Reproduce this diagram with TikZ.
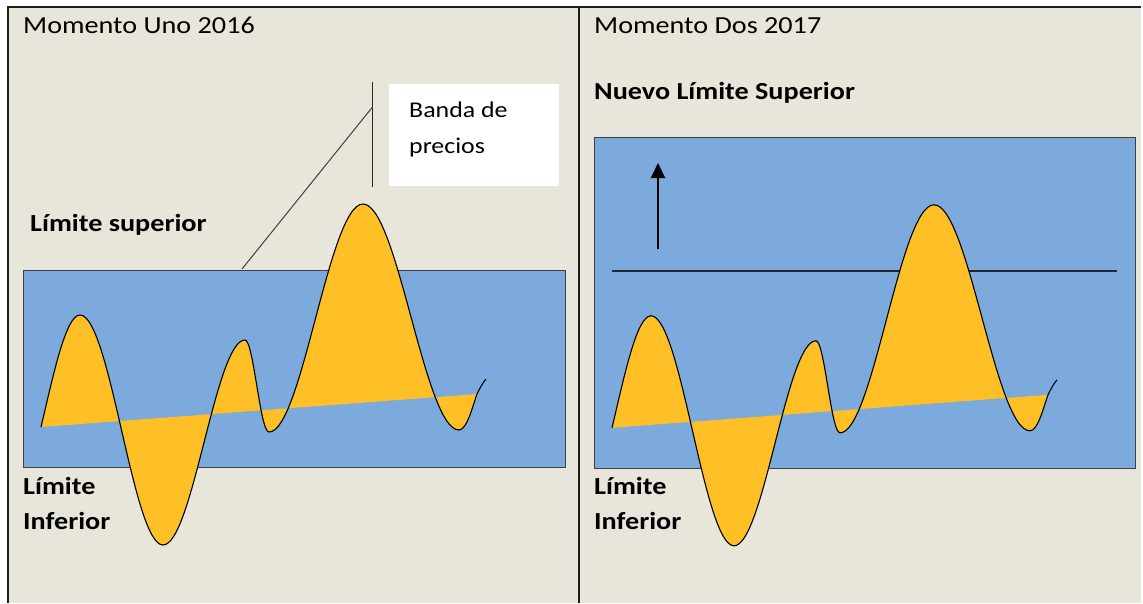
\documentclass[tikz,border=0pt]{standalone}
\usepackage{fontspec}
\setmainfont[FakeStretch=1.15]{Carlito}
\usetikzlibrary{arrows.meta}
\definecolor{bgbeige}{HTML}{E8E6DB}
\definecolor{bandblue}{HTML}{7CAADC}
\definecolor{waveyellow}{HTML}{FEBF27}
\definecolor{framegray}{HTML}{1E1E1E}
\tikzset{
  bluebox/.style={draw=black!75, line width=1pt, fill=bandblue, inner sep=0pt, outer sep=0pt},
  whitebox/.style={fill=white, inner sep=0pt, outer sep=0pt, minimum width=170pt, minimum height=102pt},
  titletext/.style={anchor=base west, inner sep=0pt, font=\fontsize{24.5}{29}\selectfont},
  boldtext/.style={anchor=base west, inner sep=0pt, font=\fontsize{24.5}{29}\selectfont\bfseries},
  bandtext/.style={anchor=base west, inner sep=0pt, align=left, font=\fontsize{22.5}{36}\selectfont},
  frameline/.style={draw=framegray, line width=2pt},
  thinline/.style={draw=black!85, line width=1.2pt},
  waveline/.style={draw=black, line width=1.1pt},
  wavefill/.style={fill=waveyellow},
  uparrow/.style={draw=black, line width=2pt, -{Triangle[length=15pt, width=14pt]}}
}
\newcommand{\wavebody}{(41,427) .. controls (54,372) and (66,315) .. (80,315)
  .. controls (110,315) and (133,545) .. (163,545)
  .. controls (192.5,545) and (215.5,340) .. (245,340)
  .. controls (253.6,340) and (260,432) .. (269,432)
  .. controls (302,432) and (329,204) .. (363,204)
  .. controls (397.5,204) and (424.5,430) .. (459,430)
  .. controls (467,430) and (473,405) .. (477,394)}
\newcommand{\wavepanel}{%
  \fill[wavefill] \wavebody -- cycle;
  \draw[waveline] \wavebody .. controls (480,388) and (482,384) .. (486,379);
}
\begin{document}
\begin{tikzpicture}[x=1pt,y=-1pt]
\useasboundingbox (0,0) rectangle (1143,603);
% background
\fill[white] (0,0) rectangle (1143,603);
\fill[bgbeige] (8,7) rectangle (1141,603);
\draw[frameline] (8,603) -- (8,7) -- (1141,7);
\draw[frameline] (579,7) -- (579,603);

% ---------- left panel ----------
\node[titletext] (t1) at (23,33) {Momento Uno 2016};
\node[boldtext] (sup1) at (30,231) {Límite superior};
\node[boldtext] (inf1) at (23,494) {Límite};
\node[boldtext] (inf1b) at (23,529) {Inferior};

\node[whitebox] (band) at (473.5,134.5) {};
\node[bandtext] (bandlbl) at (409,117) {Banda de};
\node[bandtext] (bandlbl2) at (409,153) {precios};

\coordinate (vtop) at (372.5,82);
\coordinate (vbot) at (372.5,187);
\coordinate (vmid) at (372.5,107);
\draw[thinline] (vtop) -- (vbot);

\node[bluebox, minimum width=542pt, minimum height=197pt] (rect1) at (294,368.5) {};
\coordinate (dstart) at (242,269);
\draw[draw=black!75, line width=1pt] (dstart) -- (vmid);

\wavepanel

% ---------- right panel ----------
\node[titletext] (t2) at (594,33) {Momento Dos 2017};
\node[boldtext] (nsup) at (594,99) {Nuevo Límite Superior};
\node[boldtext] (inf2) at (594,494) {Límite};
\node[boldtext] (inf2b) at (594,529) {Inferior};

\node[bluebox, minimum width=541pt, minimum height=331pt] (rect2) at (864.5,302.5) {};
\coordinate (hl) at (612,271);
\coordinate (hr) at (1117,271);
\draw[thinline] (hl) -- (hr);
\coordinate (abot) at (658,249);
\coordinate (atop) at (658,163);
\draw[uparrow] (abot) -- (atop);

\begin{scope}[xshift=571pt, yshift=-0.8pt]
\wavepanel
\end{scope}
\end{tikzpicture}
\end{document}
